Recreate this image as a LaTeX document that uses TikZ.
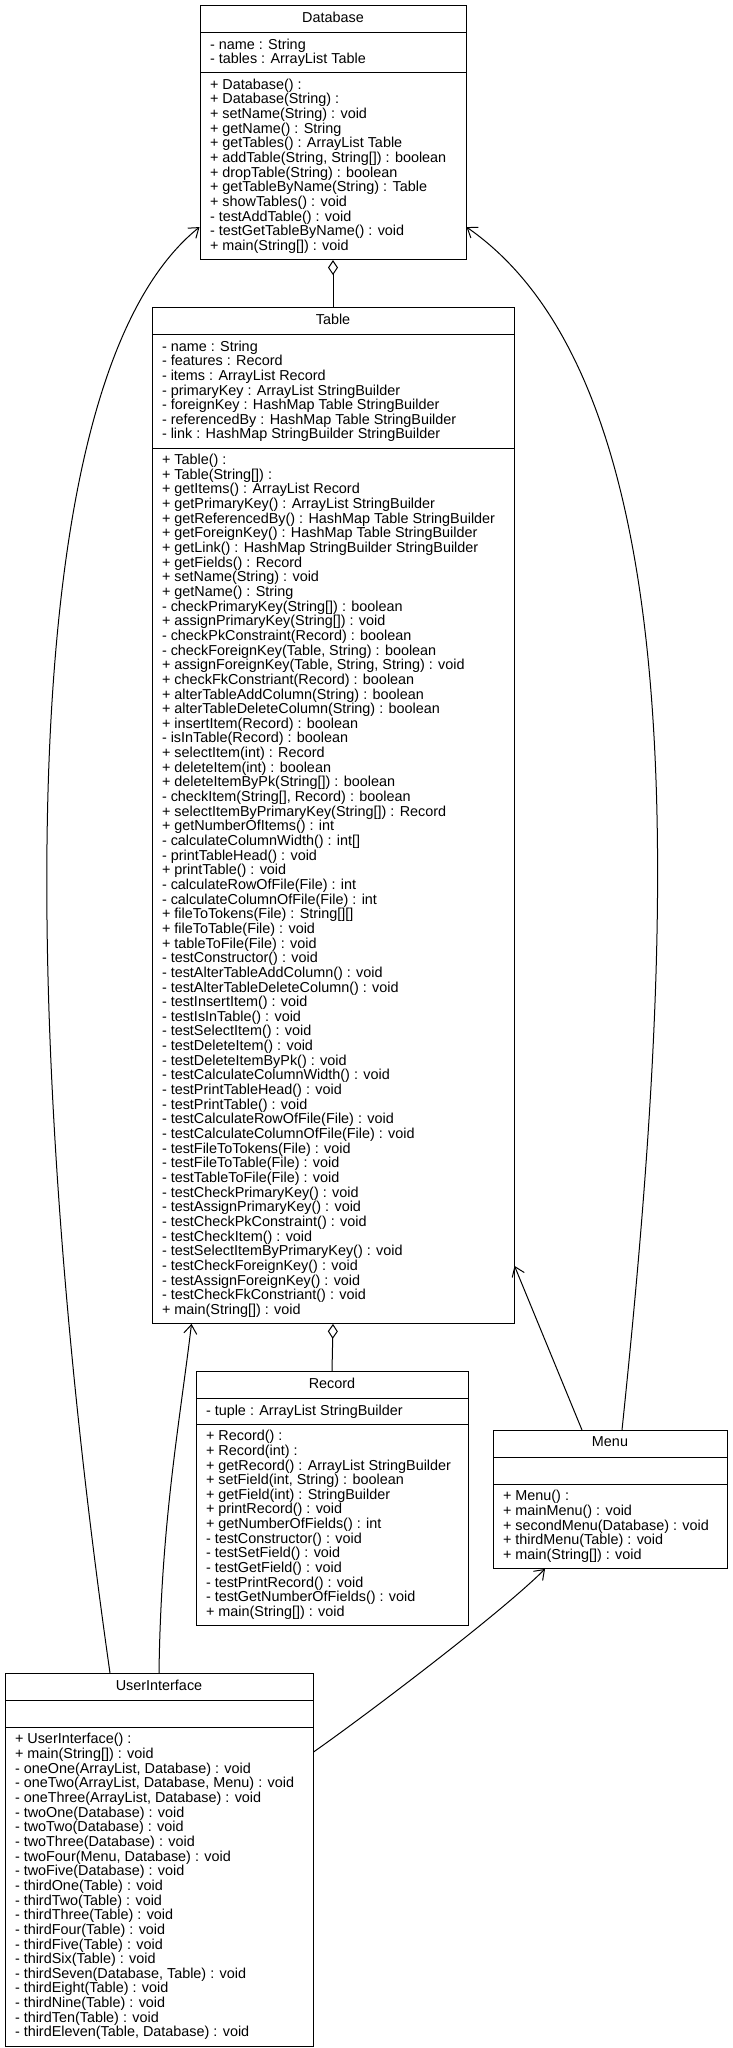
\documentclass[tikz,border=0pt]{standalone}
\usepackage{fontspec}
\setmainfont{Liberation Sans}
\usepackage{tikz}
\usetikzlibrary{positioning, arrows.meta, shapes.multipart, calc}
\newcommand{\umlfont}{\fontsize{14.4}{14.65}\selectfont}
\tikzset{
    umlclass/.style={draw, line width=1pt, fill=white, rectangle split, rectangle split parts=3,
        rectangle split part align={center, left, left}, align=left, font=\umlfont,
        inner xsep=10pt, inner ysep=5.6pt, anchor=north},
    umlarrow/.style={-{Straight Barb[length=9pt, width=13pt]}, line width=1pt},
    umlaggr/.style={-{Diamond[open, length=15pt, width=10pt]}, line width=1pt},
}
\begin{document}
\begin{tikzpicture}[x=1pt, y=-1pt]
    \path[use as bounding box, fill=white] (0,0) rectangle (732,2048);
    % classes
    \node[umlclass, minimum width=266pt] (db) at (333,5)
        {\strut Database\nodepart{two}- name : String\\- tables : ArrayList Table
        \nodepart{three}+ Database() :\\+ Database(String) :\\+ setName(String) : void\\+ getName() : String\\+ getTables() : ArrayList Table\\+ addTable(String, String[]) : boolean\\+ dropTable(String) : boolean\\+ getTableByName(String) : Table\\+ showTables() : void\\- testAddTable() : void\\- testGetTableByName() : void\\+ main(String[]) : void};
    \node[umlclass, minimum width=362pt] (tbl) at (333,307)
        {\strut Table\nodepart{two}- name : String\\- features : Record\\- items : ArrayList Record\\- primaryKey : ArrayList StringBuilder\\- foreignKey : HashMap Table StringBuilder\\- referencedBy : HashMap Table StringBuilder\\- link : HashMap StringBuilder StringBuilder
        \nodepart{three}+ Table() :\\+ Table(String[]) :\\+ getItems() : ArrayList Record\\+ getPrimaryKey() : ArrayList StringBuilder\\+ getReferencedBy() : HashMap Table StringBuilder\\+ getForeignKey() : HashMap Table StringBuilder\\+ getLink() : HashMap StringBuilder StringBuilder\\+ getFields() : Record\\+ setName(String) : void\\+ getName() : String\\- checkPrimaryKey(String[]) : boolean\\+ assignPrimaryKey(String[]) : void\\- checkPkConstraint(Record) : boolean\\- checkForeignKey(Table, String) : boolean\\+ assignForeignKey(Table, String, String) : void\\+ checkFkConstriant(Record) : boolean\\+ alterTableAddColumn(String) : boolean\\+ alterTableDeleteColumn(String) : boolean\\+ insertItem(Record) : boolean\\- isInTable(Record) : boolean\\+ selectItem(int) : Record\\+ deleteItem(int) : boolean\\+ deleteItemByPk(String[]) : boolean\\- checkItem(String[], Record) : boolean\\+ selectItemByPrimaryKey(String[]) : Record\\+ getNumberOfItems() : int\\- calculateColumnWidth() : int[]\\- printTableHead() : void\\+ printTable() : void\\- calculateRowOfFile(File) : int\\- calculateColumnOfFile(File) : int\\+ fileToTokens(File) : String[][]\\+ fileToTable(File) : void\\+ tableToFile(File) : void\\- testConstructor() : void\\- testAlterTableAddColumn() : void\\- testAlterTableDeleteColumn() : void\\- testInsertItem() : void\\- testIsInTable() : void\\- testSelectItem() : void\\- testDeleteItem() : void\\- testDeleteItemByPk() : void\\- testCalculateColumnWidth() : void\\- testPrintTableHead() : void\\- testPrintTable() : void\\- testCalculateRowOfFile(File) : void\\- testCalculateColumnOfFile(File) : void\\- testFileToTokens(File) : void\\- testFileToTable(File) : void\\- testTableToFile(File) : void\\- testCheckPrimaryKey() : void\\- testAssignPrimaryKey() : void\\- testCheckPkConstraint() : void\\- testCheckItem() : void\\- testSelectItemByPrimaryKey() : void\\- testCheckForeignKey() : void\\- testAssignForeignKey() : void\\- testCheckFkConstriant() : void\\+ main(String[]) : void};
    \node[umlclass, minimum width=272pt] (rec) at (332,1371)
        {\strut Record\nodepart{two}- tuple : ArrayList StringBuilder
        \nodepart{three}+ Record() :\\+ Record(int) :\\+ getRecord() : ArrayList StringBuilder\\+ setField(int, String) : boolean\\+ getField(int) : StringBuilder\\+ printRecord() : void\\+ getNumberOfFields() : int\\- testConstructor() : void\\- testSetField() : void\\- testGetField() : void\\- testPrintRecord() : void\\- testGetNumberOfFields() : void\\+ main(String[]) : void};
    \node[umlclass, minimum width=234pt] (menu) at (610,1430)
        {\strut Menu\nodepart{two}\strut
        \nodepart{three}+ Menu() :\\+ mainMenu() : void\\+ secondMenu(Database) : void\\+ thirdMenu(Table) : void\\+ main(String[]) : void};
    \node[umlclass, minimum width=308pt] (ui) at (159,1673)
        {\strut UserInterface\nodepart{two}\strut
        \nodepart{three}+ UserInterface() :\\+ main(String[]) : void\\- oneOne(ArrayList, Database) : void\\- oneTwo(ArrayList, Database, Menu) : void\\- oneThree(ArrayList, Database) : void\\- twoOne(Database) : void\\- twoTwo(Database) : void\\- twoThree(Database) : void\\- twoFour(Menu, Database) : void\\- twoFive(Database) : void\\- thirdOne(Table) : void\\- thirdTwo(Table) : void\\- thirdThree(Table) : void\\- thirdFour(Table) : void\\- thirdFive(Table) : void\\- thirdSix(Table) : void\\- thirdSeven(Database, Table) : void\\- thirdEight(Table) : void\\- thirdNine(Table) : void\\- thirdTen(Table) : void\\- thirdEleven(Table, Database) : void};
    % aggregations
    \draw[umlaggr] (tbl.north) -- (db.south);
    \draw[umlaggr] (rec.north) -- (tbl.south);
    % associations
    \draw[umlarrow] ([xshift=-49pt]ui.north) .. controls +(-80,-560) and +(-205,165) .. ([yshift=33pt]db.south west);
    \draw[umlarrow] ([xshift=12pt]menu.north) .. controls +(50,-480) and +(238,165) .. ([yshift=33pt]db.south east);
    \draw[umlarrow] ([xshift=-28pt]menu.north) -- ([yshift=58pt]tbl.south east);
    \draw[umlarrow] (ui.north) .. controls +(2,-150) and +(-12,100) .. ([xshift=40pt]tbl.south west);
    \draw[umlarrow] ([yshift=-79pt]ui.north east) .. controls +(50,-35) and +(-45,45) .. ([xshift=-65pt]menu.south);
\end{tikzpicture}
\end{document}
